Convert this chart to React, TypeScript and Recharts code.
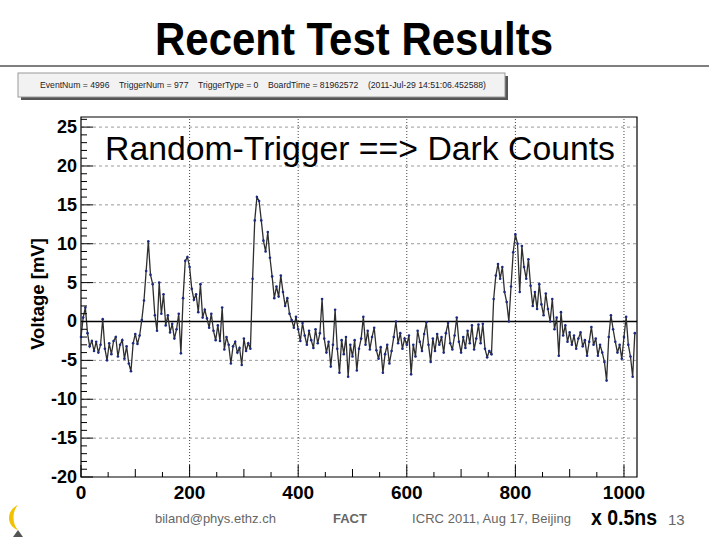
// DRS4 waveform slide: random trigger, dark counts (recharts)
import { LineChart, Line, XAxis, YAxis, ReferenceLine, ReferenceArea } from "recharts";

const STEP = 4; // slices between stored samples (1 slice = 0.5 ns)

// voltage [mV], one value every STEP slices
const voltage = [
  -2.0, 0.5, 1.8, -1.5, -3.2, -2.5, -3.8, -2.6, -4.0, -3.0, 0.3, -3.5, -5.0, -2.8, -4.2, -2.5,
  -2.0, -4.5, -3.0, -2.4, -4.8, -3.2, -5.4, -6.4, -2.8, -1.6, -2.9, -1.8, 0.2, 2.7, 6.5, 10.3,
  6.0, 4.8, 0.8, -1.2, 5.0, 1.0, 3.5, -0.5, 0.8, -1.4, -0.3, -2.2, -1.0, 1.0, -4.1, 3.0,
  7.8, 8.3, 7.0, 4.2, 2.8, 3.5, 1.2, 4.8, 0.5, 1.5, 0.4, -0.8, 1.0, -1.2, -2.4, -0.5,
  -2.5, 1.8, -3.6, -2.0, -3.0, -5.4, -3.2, -2.6, -4.0, -3.4, -5.6, -2.2, -3.8, -2.8, -3.5, 5.5,
  13.0, 16.0, 15.5, 13.0, 10.4, 9.0, 11.5, 8.2, 5.8, 3.0, 4.5, 3.2, 5.9, 3.8, 2.0, 3.0,
  1.0, 0.2, -0.8, 0.6, -1.0, -2.5, -0.2, -1.8, -3.0, -1.2, -2.4, -3.4, -1.0, -2.8, -1.5, 2.9,
  -2.2, -4.0, -2.6, -5.8, -3.0, 1.5, -3.5, -6.6, -2.4, -4.2, -2.0, -7.1, -3.0, -4.5, -2.4, -6.3,
  -3.5, -2.2, 0.6, -3.0, -1.2, -3.6, -2.0, -0.8, -3.7, -4.8, -3.3, -6.6, -4.2, -3.0, -5.4, -3.8,
  -2.0, 0.0, -2.8, -1.5, -3.5, -2.2, -3.0, -1.8, -6.8, -3.0, -4.5, -1.2, -2.6, -3.8, -1.6, -0.1,
  -3.0, -5.2, -2.2, -3.8, -1.6, -3.0, -2.0, -4.0, -1.5, -0.2, -2.8, -3.6, -1.8, 0.5, -2.6, -4.0,
  -2.0, -3.4, -1.2, -2.8, -0.5, -3.6, -2.2, -0.4, -2.8, -0.3, -3.5, -4.6, -3.8, -4.2, 2.9, 5.9,
  7.4, 5.5, 7.0, 3.8, 2.5, 0.0, 4.5, 8.9, 11.2, 10.0, 3.8, 9.7, 7.0, 5.5, 8.0, 4.6,
  2.0, 3.8, 1.6, 4.8, 2.2, 0.8, 3.6, 1.6, 0.0, 2.9, -1.0, 0.5, -4.4, 1.2, -1.8, -0.5,
  -2.6, -1.4, -3.0, -1.8, -3.5, -2.2, -1.4, -3.2, -2.4, -4.4, -2.6, -0.7, -3.0, -2.2, -4.4, -3.0,
  -4.0, -5.2, -7.6, -2.0, 0.8, -1.0, -2.6, -4.0, -3.0, -4.8, -2.0, 0.6, -3.0, -4.5, -7.1, -1.5,
];

const xLabels = [0, 200, 400, 600, 800, 1000];
const yLabels = [-20, -15, -10, -5, 0, 5, 10, 15, 20, 25];
const xTicks = Array.from({ length: 21 }, (_, i) => i * 50);
const yTicks = Array.from({ length: 47 }, (_, i) => i - 20);

const data = voltage.map((v, i) => ({ t: i * STEP, v }));

const FONT = "Liberation Sans, Arial, Helvetica, sans-serif";

function YTick({ x, y, payload }: any) {
  const v = payload.value;
  const major = v % 5 === 0;
  return (
    <g>
      <line x1={x} y1={y} x2={x + (major ? 12 : 6)} y2={y} stroke="#000" />
      {major && (
        <text x={x - 4} y={y + 6} textAnchor="end" fontSize={18} fontWeight="bold" fontFamily={FONT} fill="#000">
          {v}
        </text>
      )}
    </g>
  );
}

function XTick({ x, y, payload }: any) {
  const v = payload.value;
  const len = v % 200 === 0 ? 12 : v % 100 === 0 ? 8 : 5;
  return (
    <g>
      <line x1={x} y1={y} x2={x} y2={y - len} stroke="#000" />
      {v % 200 === 0 && (
        <text x={x} y={y + 22} textAnchor="middle" fontSize={19} fontWeight="bold" fontFamily={FONT} fill="#000">
          {v}
        </text>
      )}
    </g>
  );
}

export default function App() {
  return (
    <div style={{ position: "absolute", left: 0, top: 0, width: 709, height: 539, background: "#fff", fontFamily: FONT }}>
      <LineChart width={709} height={539} data={data} margin={{ top: 117, right: 72, bottom: 32, left: 21 }}>
        <XAxis
          dataKey="t"
          type="number"
          domain={[0, 1024]}
          ticks={xTicks}
          interval={0}
          tickSize={0}
          tickMargin={0}
          tickLine={false}
          axisLine={false}
          height={30}
          tick={<XTick />}
        />
        <YAxis
          type="number"
          domain={[-20, 26.3]}
          ticks={yTicks}
          interval={0}
          tickSize={0}
          tickMargin={0}
          tickLine={false}
          axisLine={false}
          width={60}
          allowDataOverflow
          tick={<YTick />}
        />
        {yLabels.filter((v) => v !== 0 && v !== -20).map((v) => (
          <ReferenceLine key={"h" + v} y={v} stroke="#9a9a9a" strokeDasharray="3 3" />
        ))}
        {xLabels.filter((v) => v !== 0).map((v) => (
          <ReferenceLine key={"v" + v} x={v} stroke="#444" strokeDasharray="1 2" />
        ))}
        <ReferenceLine y={0} stroke="#000" strokeWidth={1.5} />
        <Line
          dataKey="v"
          type="linear"
          stroke="#2e2e2e"
          strokeWidth={1.3}
          dot={{ r: 1.3, fill: "#1b2a80", stroke: "#1b2a80", strokeWidth: 0 }}
          isAnimationActive={false}
        />
        <ReferenceArea x1={0} x2={1024} y1={-20} y2={26.3} fill="none" stroke="#000" strokeWidth={1.2} />
      </LineChart>

      <svg width={709} height={539} style={{ position: "absolute", left: 0, top: 0, pointerEvents: "none" }}>
        <text x={354} y={55} textAnchor="middle" fontSize={46} fontWeight="bold" textLength={398} lengthAdjust="spacingAndGlyphs" fontFamily={FONT}>
          Recent Test Results
        </text>
        <line x1={0} y1={66} x2={709} y2={66} stroke="#000" strokeWidth={1.2} />

        <rect x={21} y={76} width={487} height={24} fill="#555" />
        <rect x={18} y={73} width={487} height={24} fill="#f2f2f2" stroke="#999" />
        <text x={40} y={88} fontSize={8.5} textLength={446} lengthAdjust="spacingAndGlyphs" fontFamily={FONT} fill="#1a1a2a" style={{ whiteSpace: "pre" }}>
          {"EventNum = 4996    TriggerNum = 977    TriggerType = 0    BoardTime = 81962572    (2011-Jul-29 14:51:06.452588)"}
        </text>

        <text x={105} y={160} fontSize={33.5} textLength={510} lengthAdjust="spacingAndGlyphs" fontFamily={FONT}>
          Random-Trigger ==&gt; Dark Counts
        </text>

        <text x={44} y={294} transform="rotate(-90 44 294)" textAnchor="middle" fontSize={18.5} fontWeight="bold" fontFamily={FONT}>
          Voltage [mV]
        </text>

        <path d="M 18 505 C 6 510, 6 526, 18 530 C 12 524, 12 511, 18 505 Z" fill="#f2c200" />
        <path d="M 13 537 L 18 530 L 23 537 Z" fill="#555" />
        <text x={155} y={523} fontSize={13} fill="#666" fontFamily={FONT}>biland@phys.ethz.ch</text>
        <text x={333} y={523} fontSize={13} fontWeight="bold" fill="#666" fontFamily={FONT}>FACT</text>
        <text x={412} y={523} fontSize={13} fill="#666" fontFamily={FONT} textLength={159}>ICRC 2011, Aug 17, Beijing</text>
        <text x={591} y={525} fontSize={22} fontWeight="bold" fill="#000" fontFamily={FONT} textLength={66} lengthAdjust="spacingAndGlyphs">x 0.5ns</text>
        <text x={668} y={525} fontSize={15} fill="#666" fontFamily={FONT}>13</text>
      </svg>
    </div>
  );
}
